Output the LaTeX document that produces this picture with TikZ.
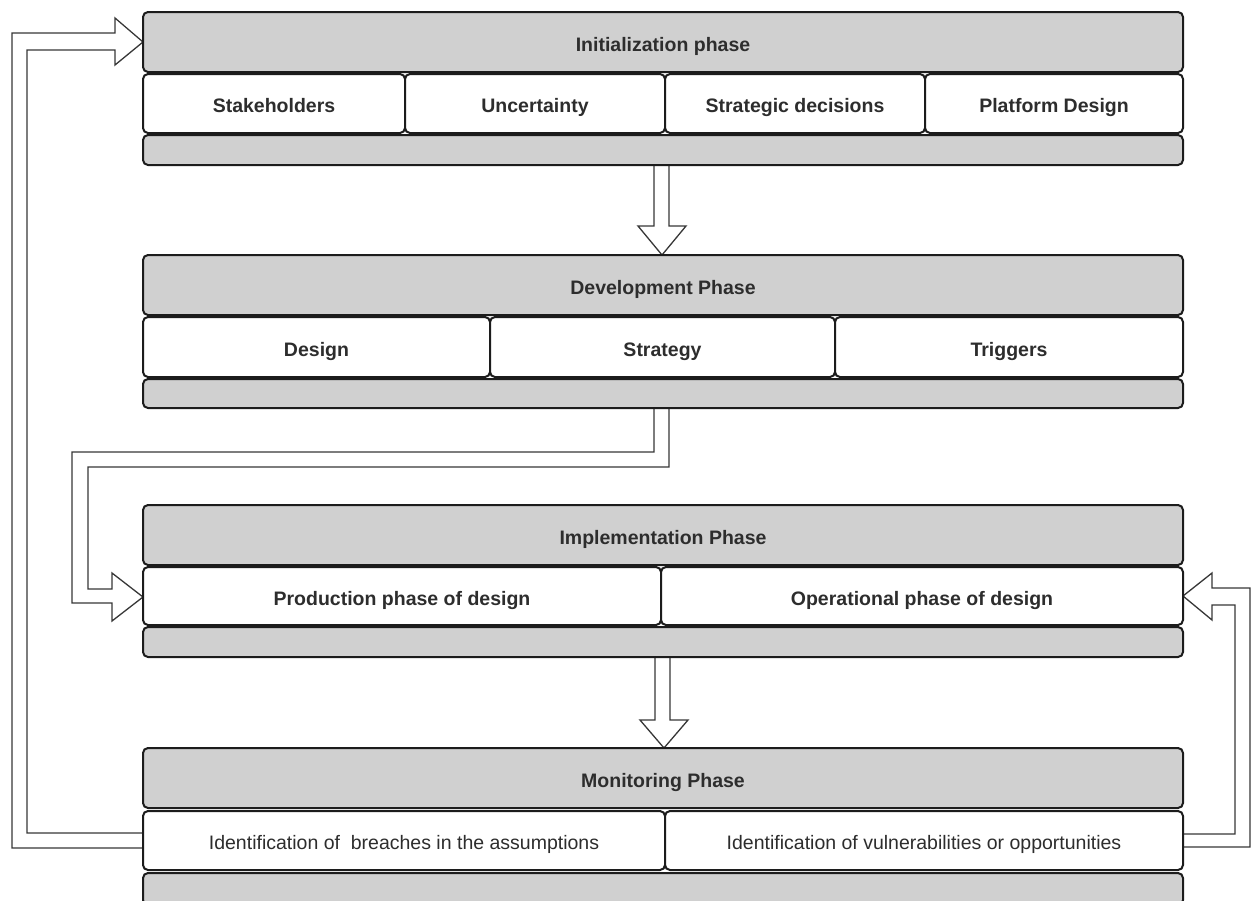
\documentclass[tikz,border=0pt]{standalone}
\usepackage{fontspec}
\setmainfont{Liberation Sans}
\usetikzlibrary{calc}
\pgfdeclarelayer{background}
\pgfsetlayers{background,main}

\definecolor{bandgray}{RGB}{208,208,208}
\definecolor{inkline}{RGB}{28,28,28}
\definecolor{txt}{RGB}{45,45,45}
\definecolor{arrowline}{RGB}{55,55,55}

\tikzset{
  band/.style={draw=inkline, line width=2pt, fill=bandgray, rounded corners=5pt,
    inner sep=0pt, outer sep=0pt, anchor=north west, text=txt,
    text height=18.5pt, text depth=0pt,
    font=\fontsize{19.5}{23}\selectfont\bfseries},
  cellbox/.style={band, fill=white},
  plaincell/.style={cellbox, font=\fontsize{19.5}{23}\selectfont},
  blockarrow/.style={draw=arrowline, line width=1.3pt, fill=white, line join=miter},
}

% #1 style, #2 name, #3 left, #4 top, #5 right, #6 bottom, #7 text
\newcommand\placebox[7]{%
  \node[#1, minimum width={(#5-#3)*1pt}, minimum height={(#6-#4)*1pt}] (#2) at (#3,#4) {#7};}

\begin{document}
\begin{tikzpicture}[x=1pt, y=-1pt]
\useasboundingbox (0,0) rectangle (1252,900);

% Initialization phase
\placebox{band}{inithead}{143}{12}{1183}{72}{Initialization phase}
\placebox{cellbox}{initA}{143}{74}{405}{133}{Stakeholders}
\placebox{cellbox}{initB}{405}{74}{665}{133}{Uncertainty}
\placebox{cellbox}{initC}{665}{74}{925}{133}{Strategic decisions}
\placebox{cellbox}{initD}{925}{74}{1183}{133}{Platform Design}
\placebox{band}{initfoot}{143}{135}{1183}{165}{}

% Development phase
\placebox{band}{devhead}{143}{255}{1183}{315}{Development Phase}
\placebox{cellbox}{devA}{143}{317}{490}{377}{Design}
\placebox{cellbox}{devB}{490}{317}{835}{377}{Strategy}
\placebox{cellbox}{devC}{835}{317}{1183}{377}{Triggers}
\placebox{band}{devfoot}{143}{379}{1183}{408}{}

% Implementation phase
\placebox{band}{imphead}{143}{505}{1183}{565}{Implementation Phase}
\placebox{cellbox}{impA}{143}{567}{661}{625}{Production phase of design}
\placebox{cellbox}{impB}{661}{567}{1183}{625}{Operational phase of design}
\placebox{band}{impfoot}{143}{627}{1183}{657}{}

% Monitoring phase
\placebox{band}{monhead}{143}{748}{1183}{808}{Monitoring Phase}
\placebox{plaincell}{monA}{143}{811}{665}{870}{Identification of~ breaches in the assumptions}
\placebox{plaincell}{monB}{665}{811}{1183}{870}{Identification of vulnerabilities or opportunities}
\placebox{band}{monfoot}{143}{873}{1183}{905}{}

\begin{pgfonlayer}{background}
  % initialization -> development
  \draw[blockarrow] (initfoot.south -| 654,0) -- (654,226) -- (638,226)
    -- (devhead.north -| 662,0) -- (686,226) -- (669,226) -- (initfoot.south -| 669,0);
  % development -> implementation
  \draw[blockarrow] (devfoot.south -| 669,0) -- (669,467) -- (88,467) -- (88,589)
    -- (112,589) -- (112,573) -- (impA.west |- 0,597) -- (112,621) -- (112,603)
    -- (72,603) -- (72,452) -- (654,452) -- (devfoot.south -| 654,0);
  % implementation -> monitoring
  \draw[blockarrow] (impfoot.south -| 655,0) -- (655,720) -- (640,720)
    -- (monhead.north -| 664,0) -- (688,720) -- (670,720) -- (impfoot.south -| 670,0);
  % monitoring -> initialization (feedback loop, left)
  \draw[blockarrow] (monA.west |- 0,848) -- (12,848) -- (12,33) -- (115,33) -- (115,18)
    -- (inithead.west |- 0,42) -- (115,65) -- (115,50) -- (27,50) -- (27,833)
    -- (monA.west |- 0,833);
  % monitoring -> implementation (feedback loop, right)
  \draw[blockarrow] (monB.east |- 0,834) -- (1235,834) -- (1235,605) -- (1212,605)
    -- (1212,620) -- (impB.east |- 0,596) -- (1212,573) -- (1212,588) -- (1250,588)
    -- (1250,847) -- (monB.east |- 0,847);
\end{pgfonlayer}
\end{tikzpicture}
\end{document}
